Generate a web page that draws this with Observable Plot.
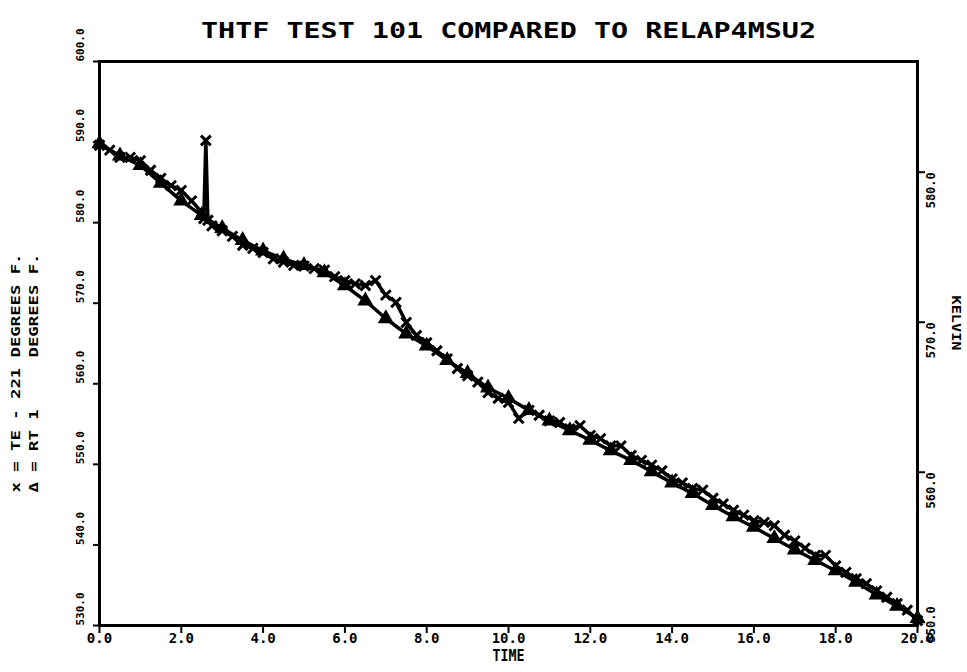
<!DOCTYPE html>
<html><head><meta charset="utf-8">
<script src="https://cdn.jsdelivr.net/npm/d3@7"></script>
<script src="https://cdn.jsdelivr.net/npm/@observablehq/plot@0.6"></script>
<style>body{margin:0;background:#fff} svg text{white-space:pre}</style>
</head><body><div id="chart"></div>
<script>
const titleText = "THTF TEST 101 COMPARED TO RELAP4MSU2";
const xLabelText = "TIME";
const yLabelTE = "x = TE - 221 DEGREES F.";
const yLabelRT = "\u0394 = RT 1     DEGREES F.";
const rightLabelText = "KELVIN";

const xTicks = [0, 2, 4, 6, 8, 10, 12, 14, 16, 18, 20];
const yTicksF = [530, 540, 550, 560, 570, 580, 590, 600];
const yTicksK = [550, 560, 570, 580];

// TE (measured) series
const teTime = [0,0.25,0.5,0.75,1,1.25,1.5,1.75,2,2.25,2.5,2.55,2.6,2.65,2.75,3,3.25,3.5,3.75,4,4.25,4.5,4.75,5,5.25,5.5,5.75,6,6.25,6.5,6.75,7,7.25,7.5,7.75,8,8.25,8.5,8.75,9,9.25,9.5,9.75,10,10.25,10.5,10.75,11,11.25,11.5,11.75,12,12.25,12.5,12.75,13,13.25,13.5,13.75,14,14.25,14.5,14.75,15,15.25,15.5,15.75,16,16.25,16.5,16.75,17,17.25,17.5,17.75,18,18.25,18.5,18.75,19,19.25,19.5,19.75,20];
const teTemp = [589.6,589.0,588.1,588.1,587.7,586.5,585.5,584.6,584.0,582.7,581.3,580.5,590.2,580.3,579.6,579.0,578.3,577.2,576.8,576.3,575.5,575.1,574.7,574.6,574.3,574.1,573.3,572.8,572.4,572.2,572.8,571.0,570.1,567.6,566.0,565.1,564.1,563.1,561.9,561.0,560.2,558.9,558.2,557.7,555.7,556.7,556.1,555.4,555.2,554.4,554.8,553.6,553.2,552.3,552.3,551.1,550.5,549.9,549.2,548.2,547.7,547.0,546.8,545.8,545.1,544.3,543.7,543.0,542.8,542.4,541.2,540.5,539.6,538.7,538.7,537.4,536.6,535.8,535.2,534.3,533.5,532.7,531.9,530.6];

// RT (RELAP4) series
const rtTime = [0,0.5,1,1.5,2,2.5,3,3.5,4,4.5,5,5.5,6,6.5,7,7.5,8,8.5,9,9.5,10,10.5,11,11.5,12,12.5,13,13.5,14,14.5,15,15.5,16,16.5,17,17.5,18,18.5,19,19.5,20];
const rtTemp = [589.8,588.3,587.1,584.9,582.7,580.9,579.3,577.8,576.5,575.5,574.7,573.8,572.2,570.3,568.1,566.2,564.7,562.9,561.3,559.5,558.2,556.7,555.4,554.2,553.0,551.7,550.5,549.1,547.7,546.4,544.9,543.5,542.2,540.8,539.4,538.1,536.8,535.4,533.8,532.4,530.9];

const te = teTime.map((t, i) => ({t, f: teTemp[i]}));
const rt = rtTime.map((t, i) => ({t, f: rtTemp[i]}));
// secondary (Kelvin) axis placement on the primary scale
const kToAxis = k => 530.4 + (k - 550) * 1.862;

const FONT = "DejaVu Sans Mono";
const txt = {fontFamily: FONT, fontWeight: "bold", fill: "black"};
const chart = Plot.plot({
  width: 967, height: 672,
  marginLeft: 99, marginRight: 50, marginTop: 61, marginBottom: 47,
  x: {domain: [0, 20], axis: null},
  y: {domain: [530, 600], axis: null},
  marks: [
    Plot.axisX(xTicks, {tickSize: 8, tickFormat: () => "", label: null, stroke: "black", strokeWidth: 2}),
    Plot.axisY(yTicksF, {anchor: "left", tickSize: 6, tickFormat: () => "", label: null, stroke: "black", strokeWidth: 2}),
    Plot.axisY(yTicksK.map(kToAxis), {anchor: "right", tickSize: 7, tickFormat: () => "", label: null, stroke: "black", strokeWidth: 2}),
    Plot.text(xTicks, {x: d => d, frameAnchor: "bottom", dy: 17, text: d => d.toFixed(1), fontSize: 14, ...txt}),
    Plot.text(yTicksF, {y: d => d, frameAnchor: "left", dx: -19, rotate: -90, text: d => d.toFixed(1), fontSize: 11, ...txt}),
    Plot.text(yTicksK.slice(1), {y: d => kToAxis(d), frameAnchor: "right", dx: 14, rotate: -90, text: d => d.toFixed(1), fontSize: 12, ...txt}),
    Plot.text(yTicksK.slice(0, 1), {y: d => kToAxis(d), frameAnchor: "right", dx: 14, dy: -16, rotate: -90, text: d => d.toFixed(1), fontSize: 12, ...txt}),
    Plot.line(rt, {x: "t", y: "f", stroke: "black", strokeWidth: 3.5}),
    Plot.dot(rt, {x: "t", y: "f", symbol: "triangle", r: 5, fill: "black", stroke: "black"}),
    Plot.line(te, {x: "t", y: "f", stroke: "black", strokeWidth: 3.5}),
    Plot.dot(te, {x: "t", y: "f", symbol: "times", r: 4.5, stroke: "black", strokeWidth: 3}),
    Plot.frame({stroke: "black", strokeWidth: 3}),
    Plot.text([titleText], {frameAnchor: "top", dy: -39, text: d => d, fontSize: 22, ...txt}),
    Plot.text([xLabelText], {frameAnchor: "bottom", dy: 35, text: d => d, fontSize: 15, ...txt}),
    Plot.text([yLabelTE], {frameAnchor: "left", dx: -84, dy: 149, rotate: -90, textAnchor: "start", text: d => d, fontSize: 13, ...txt}),
    Plot.text([yLabelRT], {frameAnchor: "left", dx: -66, dy: 149, rotate: -90, textAnchor: "start", text: d => d, fontSize: 13, ...txt}),
    Plot.text([rightLabelText], {frameAnchor: "right", dx: 38, dy: -48, rotate: 90, textAnchor: "start", text: d => d, fontSize: 12, ...txt})
  ]
});
document.getElementById("chart").appendChild(chart);
// stretch the condensed plotter lettering to the reference widths
const widths = {[titleText]: 615, [yLabelTE]: 239, [yLabelRT]: 239, [xLabelText]: 32, [rightLabelText]: 55};
chart.querySelectorAll("text").forEach(el => {
  const w = widths[el.textContent];
  if (w) { el.setAttribute("textLength", w); el.setAttribute("lengthAdjust", "spacingAndGlyphs"); }
});
</script>
</body></html>
